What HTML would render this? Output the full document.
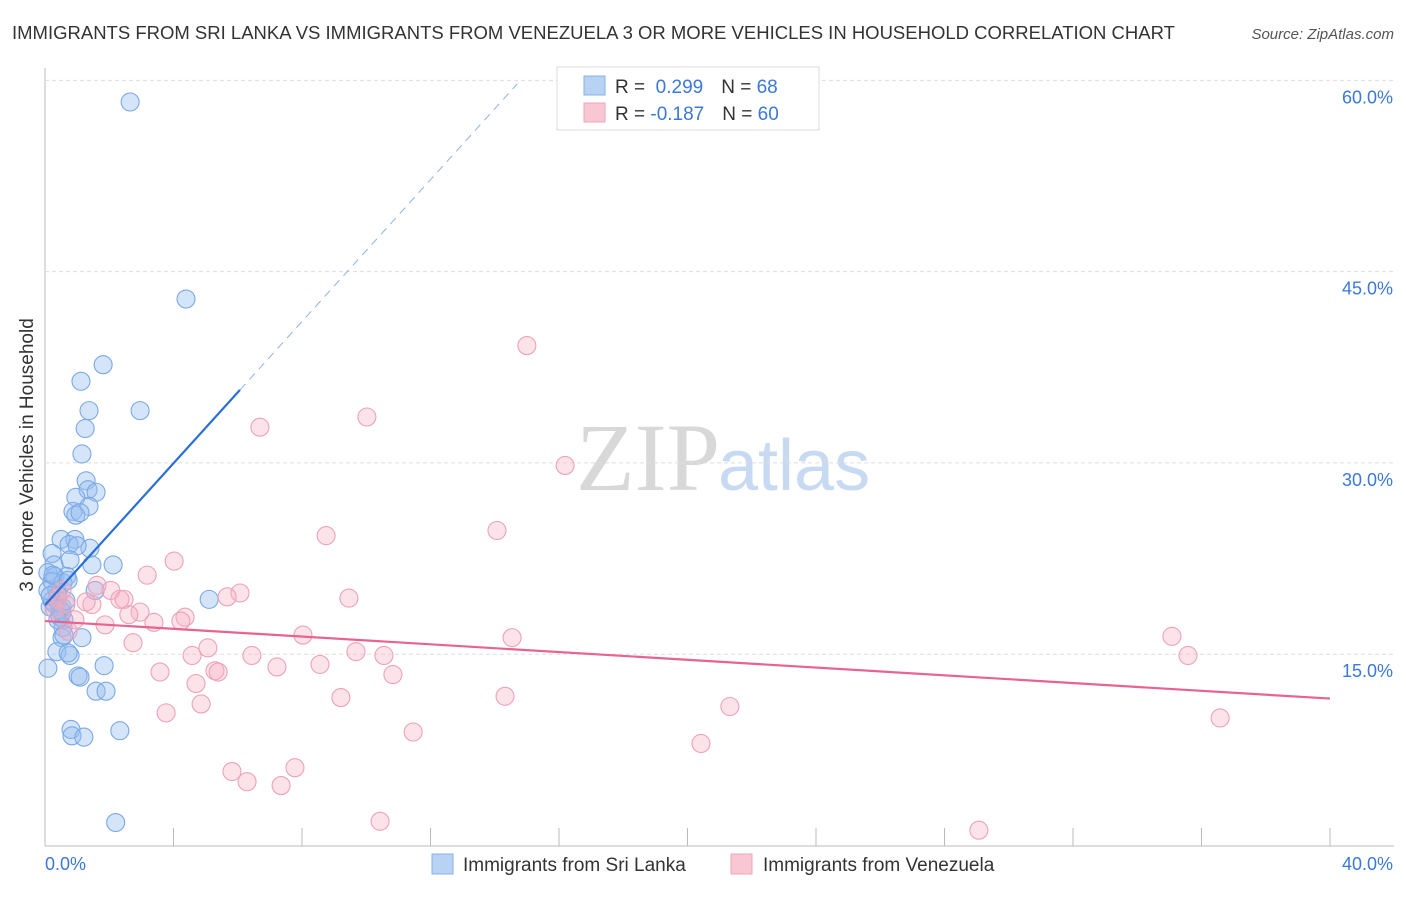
<!DOCTYPE html>
<html><head><meta charset="utf-8"><style>
body{margin:0;background:#fff;font-family:"Liberation Sans",sans-serif}
</style></head><body>
<svg width="1406" height="892" xmlns="http://www.w3.org/2000/svg" id="chart" font-family="Liberation Sans, sans-serif">
<text x="12" y="39" font-size="18.5" fill="#333">IMMIGRANTS FROM SRI LANKA VS IMMIGRANTS FROM VENEZUELA 3 OR MORE VEHICLES IN HOUSEHOLD CORRELATION CHART</text>
<text x="1394" y="39" font-size="15" fill="#555" font-style="italic" text-anchor="end">Source: ZipAtlas.com</text>
<text x="720" y="490" font-size="96" fill="#d8d8d8" text-anchor="end" font-family="Liberation Serif, serif">ZIP</text>
<text x="718" y="490" font-size="72" fill="#c8daf2">atlas</text>
<text x="33" y="455" font-size="19" fill="#333" text-anchor="middle" transform="rotate(-90 33 455)">3 or more Vehicles in Household</text>
<g id="grid"></g><g id="pts"></g><g id="lines"></g>
<g>
<rect x="557" y="67" width="262" height="63" fill="#fff" stroke="#ddd"/>
<rect x="584" y="76" width="21" height="19" fill="#b8d2f4" stroke="#86b0e8"/>
<rect x="584" y="103" width="21" height="19" fill="#f9c6d4" stroke="#eea4b9"/>
<text x="615" y="93" font-size="19" fill="#333">R = <tspan fill="#3b78d8">&#160;0.299</tspan><tspan dx="18">N = </tspan><tspan fill="#3b78d8">68</tspan></text>
<text x="615" y="120" font-size="19" fill="#333">R = <tspan fill="#3b78d8">-0.187</tspan><tspan dx="18">N = </tspan><tspan fill="#3b78d8">60</tspan></text>
</g>
<g>
<rect x="432" y="854" width="21" height="20" fill="#b8d2f4" stroke="#86b0e8"/>
<text x="463" y="871" font-size="19" fill="#333">Immigrants from Sri Lanka</text>
<rect x="731" y="854" width="21" height="20" fill="#f9c6d4" stroke="#eea4b9"/>
<text x="763" y="871" font-size="19" fill="#333">Immigrants from Venezuela</text>
</g>
</svg>
<script>
const yTicks=[15,30,45,60];
const xTickLabels=["0.0%","40.0%"];
const blueX=[2.65,4.39,1.81,1.12,2.96,1.37,1.25,1.15,1.28,1.34,1.59,0.96,0.87,1.37,0.96,1.09,0.50,0.93,0.75,1.40,0.22,1.00,0.78,1.46,2.12,0.28,0.09,0.31,0.68,0.22,0.56,0.37,1.56,5.11,0.37,0.16,0.53,0.47,0.59,0.56,0.53,1.15,0.37,0.78,0.72,1.84,0.09,1.03,1.09,1.59,1.90,0.81,0.84,1.21,2.33,2.2,0.40,0.22,0.31,0.47,0.09,0.16,0.53,0.65,0.40,0.59,0.25,0.72];
const blueY=[58.3,42.85,37.7,36.4,34.1,34.1,32.7,30.7,28.6,27.9,27.7,27.3,26.2,26.6,25.9,26.1,24.0,24.0,23.6,23.3,22.9,23.5,22.4,22.0,22.0,22.0,21.4,21.1,21.1,20.7,20.6,20.0,20.0,19.3,19.2,18.7,18.7,17.9,17.7,17.1,16.3,16.3,15.2,14.9,15.1,14.1,13.9,13.3,13.2,12.1,12.1,9.1,8.6,8.5,9.0,1.8,19.6,19.2,18.9,18.5,20.0,19.6,18.3,19.2,17.7,16.5,21.2,20.8];
const pinkX=[15.0,10.02,6.69,16.19,14.07,8.75,4.02,3.18,1.62,2.05,6.07,5.67,2.33,2.46,9.46,0.40,0.65,1.46,1.28,2.96,2.61,3.39,4.36,4.23,1.87,0.72,8.03,14.54,35.08,5.07,2.74,9.68,10.55,4.58,6.44,8.56,7.22,5.29,5.39,3.58,4.70,10.83,9.21,14.32,4.86,21.32,3.77,36.58,11.46,20.42,5.82,6.29,7.78,7.35,10.43,29.07,35.58,0.31,0.53,0.93];
const pinkY=[39.2,33.6,32.8,29.8,24.7,24.3,22.3,21.2,20.4,20.0,19.8,19.5,19.3,19.3,19.4,19.4,18.9,18.9,19.1,18.3,18.1,17.5,17.9,17.6,17.3,16.8,16.5,16.3,16.4,15.5,15.9,15.2,14.9,14.9,14.9,14.2,14.0,13.7,13.6,13.6,12.7,13.4,11.6,11.7,11.1,10.9,10.4,10.0,8.9,8.0,5.8,5.0,6.1,4.7,1.9,1.2,14.9,18.5,20.0,17.7];
const blueTrend=[18.85,2.78];
const pinkTrend=[17.6,-0.152];
const X=v=>45+v*32.125, Y=v=>845.5-v*12.753;
const NS="http://www.w3.org/2000/svg";
function mk(tag,attrs,parent){const e=document.createElementNS(NS,tag);for(const k in attrs)e.setAttribute(k,attrs[k]);parent.appendChild(e);return e;}
const grid=document.getElementById('grid'),pts=document.getElementById('pts'),lines=document.getElementById('lines');
const ax=mk('line',{x1:45,y1:68,x2:45,y2:846,stroke:'#bbb'},grid);


const bx=mk('line',{x1:45,y1:846,x2:1394,y2:846,stroke:'#bbb'},grid);


for(let i=0;i<=10;i++){const t=mk('line',{x1:X(i*4),y1:828,x2:X(i*4),y2:846,stroke:'#bbb'},grid);

}
yTicks.forEach(v=>{const g=mk('line',{x1:45,y1:Y(v),x2:1394,y2:Y(v),stroke:'#ddd','stroke-dasharray':'4,3'},grid);


const t=mk('text',{x:1393,y:Y(v)+23,'font-size':18,fill:'#3b78d8','text-anchor':'end'},grid);t.textContent=v.toFixed(1)+'%';

});
const l0=mk('text',{x:45,y:870,'font-size':18,fill:'#3b78d8'},grid);l0.textContent=xTickLabels[0];


const l1=mk('text',{x:1393,y:870,'font-size':18,fill:'#3b78d8','text-anchor':'end'},grid);l1.textContent=xTickLabels[1];


blueX.forEach((x,i)=>{const c=mk('circle',{cx:X(x),cy:Y(blueY[i]),r:9,fill:'rgba(150,190,240,0.4)',stroke:'#7aa8e6','stroke-width':1.1},pts);

});
pinkX.forEach((x,i)=>{const c=mk('circle',{cx:X(x),cy:Y(pinkY[i]),r:9,fill:'rgba(245,175,195,0.35)',stroke:'#eca2b9','stroke-width':1.1},pts);

});
const bs=mk('line',{x1:X(0),y1:Y(blueTrend[0]),x2:X(6.07),y2:Y(blueTrend[0]+blueTrend[1]*6.07),stroke:'#2a6fd6','stroke-width':2.2},lines);


const bd=mk('line',{x1:X(6.07),y1:Y(blueTrend[0]+blueTrend[1]*6.07),x2:X(14.7),y2:Y(blueTrend[0]+blueTrend[1]*14.7),stroke:'#8fb3e8','stroke-width':1,'stroke-dasharray':'8,6'},lines);


const ps=mk('line',{x1:X(0),y1:Y(pinkTrend[0]),x2:X(40),y2:Y(pinkTrend[0]+pinkTrend[1]*40),stroke:'#e8638f','stroke-width':2.2},lines);


</script>
</body></html>
